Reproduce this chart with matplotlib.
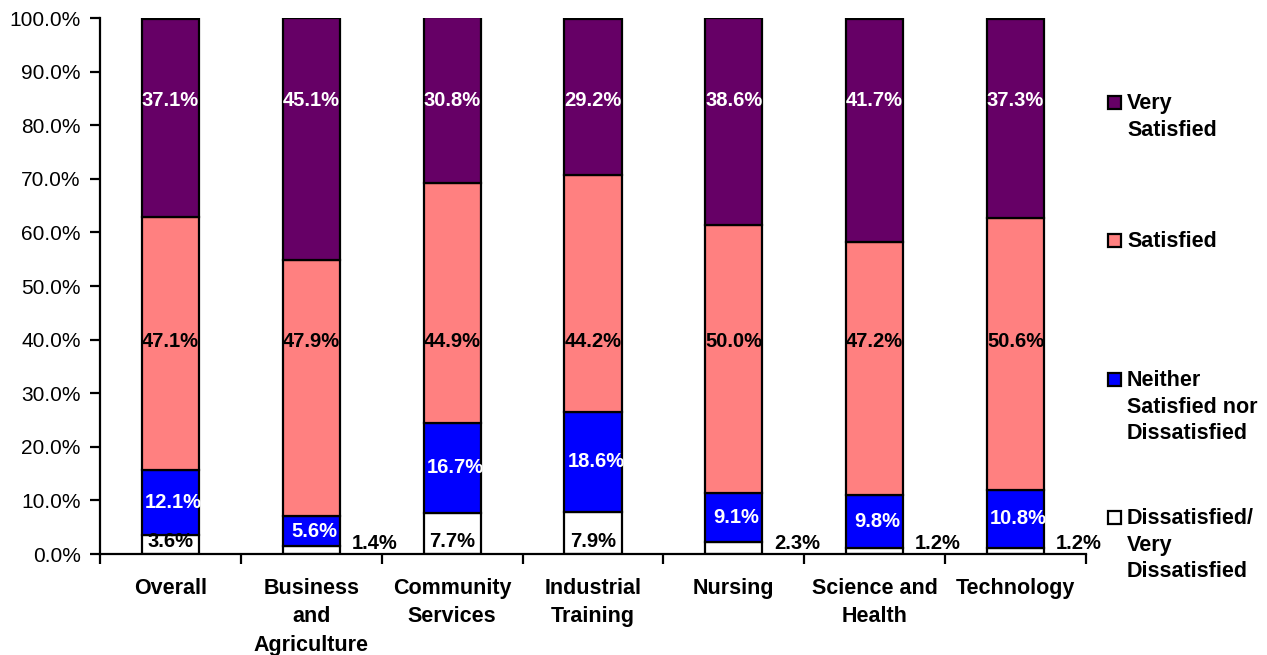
import matplotlib
matplotlib.use("Agg")
import matplotlib.pyplot as plt
from matplotlib.patches import Rectangle
import numpy as np

plt.rcParams['font.family'] = ['Liberation Sans', 'DejaVu Sans']

categories = ['Overall', 'Business\nand\nAgriculture', 'Community\nServices',
              'Industrial\nTraining', 'Nursing', 'Science and\nHealth', 'Technology']
dissatisfied = [3.6, 1.4, 7.7, 7.9, 2.3, 1.2, 1.2]
neither = [12.1, 5.6, 16.7, 18.6, 9.1, 9.8, 10.8]
satisfied = [47.1, 47.9, 44.9, 44.2, 50.0, 47.2, 50.6]
very_satisfied = [37.1, 45.1, 30.8, 29.2, 38.6, 41.7, 37.3]

series = [
    ('Dissatisfied/\nVery\nDissatisfied', dissatisfied, 'white', 'black'),
    ('Neither\nSatisfied nor\nDissatisfied', neither, '#0000FF', 'white'),
    ('Satisfied', satisfied, '#FF8080', 'black'),
    ('Very\nSatisfied', very_satisfied, '#660066', 'white'),
]

fig = plt.figure(figsize=(12.67, 6.55), dpi=100)
ax = fig.add_axes([100 / 1267, 101 / 655, 986 / 1267, 536 / 655])

x = np.arange(len(categories))
width = 0.405
bottom = np.zeros(len(categories))
fs_tick = 15
fs_cat = 15.5
fs_data = 14.5
fs_leg = 15.5

for name, vals, color, tcolor in series:
    vals = np.array(vals)
    ax.bar(x, vals, width, bottom=bottom, color=color, edgecolor='black',
           linewidth=1.6, zorder=2)
    for i, v in enumerate(vals):
        if name.startswith('Dissatisfied'):
            if v < 3:
                ax.text(x[i] + 0.45, 2.0, f'{v:.1f}%', ha='center', va='center',
                        fontsize=fs_data, fontweight='bold', color=tcolor)
            else:
                ax.text(x[i], min(v / 2 + 0.5, 2.4), f'{v:.1f}%', ha='center',
                        va='center', fontsize=fs_data, fontweight='bold', color=tcolor)
        elif name == 'Satisfied':
            ax.text(x[i], 39.6, f'{v:.1f}%', ha='center', va='center',
                    fontsize=fs_data, fontweight='bold', color=tcolor)
        elif name.startswith('Very'):
            ax.text(x[i], 84.6, f'{v:.1f}%', ha='center', va='center',
                    fontsize=fs_data, fontweight='bold', color=tcolor)
        else:
            ax.text(x[i] + 0.02, bottom[i] + v / 2, f'{v:.1f}%', ha='center',
                    va='center', fontsize=fs_data, fontweight='bold', color=tcolor)
    bottom += vals

ax.set_xlim(-0.5, len(categories) - 0.5)
ax.set_ylim(0, 100)
ax.set_yticks(np.arange(0, 101, 10))
ax.set_yticklabels([f'{t:.1f}%' for t in np.arange(0, 101, 10)], fontsize=fs_tick)
ax.set_xticks(x)
ax.set_xticklabels(categories, fontsize=fs_cat, fontweight='bold', linespacing=1.48)
ax.set_xticks(np.arange(-0.5, len(categories)), minor=True)
ax.tick_params(axis='x', which='major', length=0, pad=17)
ax.tick_params(axis='x', which='minor', length=7, width=1.6, direction='out')
ax.tick_params(axis='y', length=7, width=1.6, direction='out', pad=7)

for s in ['top', 'right']:
    ax.spines[s].set_visible(False)
for s in ['left', 'bottom']:
    ax.spines[s].set_linewidth(1.6)

# legend drawn by hand, entries spread down the right side
legend_tops = [96, 234, 373, 511]
for (name, vals, color, tcolor), top in zip(series[::-1], legend_tops):
    fig.patches.append(Rectangle((1108 / 1267, (655 - top - 13) / 655), 13 / 1267, 13 / 655,
                                 transform=fig.transFigure, facecolor=color,
                                 edgecolor='black', linewidth=1.6))
    fig.text(1127 / 1267, (655 - top + 3) / 655, name, ha='left', va='top',
             fontsize=fs_leg, fontweight='bold', linespacing=1.35)

fig.savefig('out.png', dpi=100)
